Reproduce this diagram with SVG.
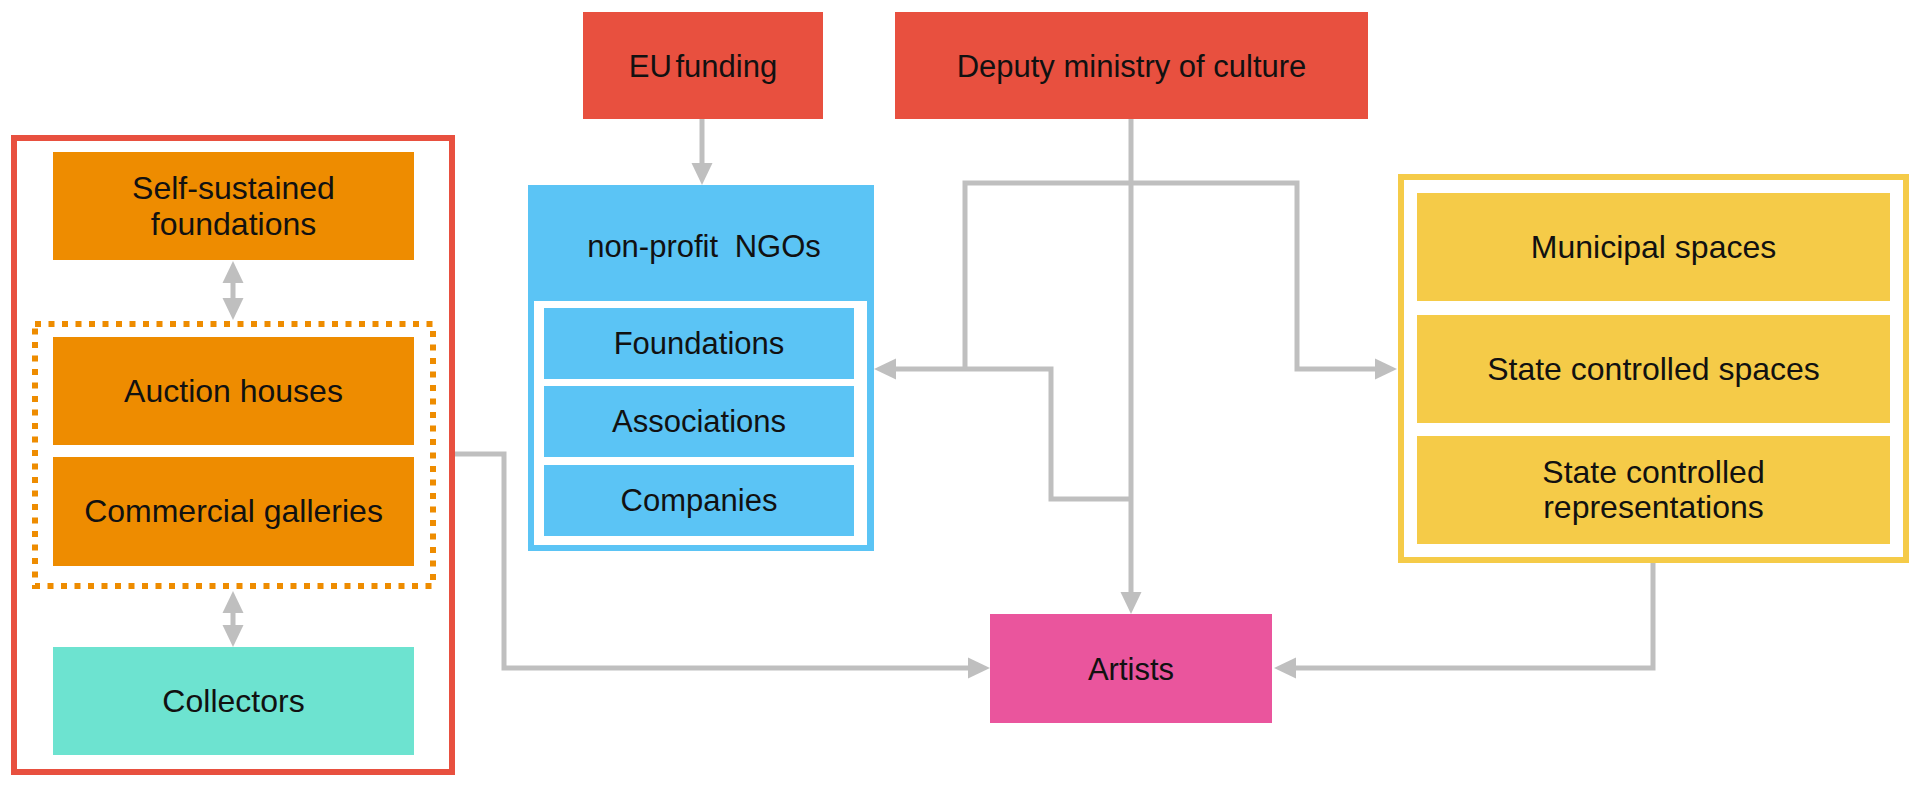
<svg xmlns="http://www.w3.org/2000/svg" width="1920" height="787" viewBox="0 0 1920 787">
<defs>
<style>
text{font-family:"Liberation Sans",Arial,Helvetica,sans-serif;font-size:31px;fill:#111;text-anchor:middle}
.big{font-size:32px}
.red{fill:#E8503F}
.org{fill:#EE8C00}
.teal{fill:#6DE3D0}
.blue{fill:#5BC4F5}
.yel{fill:#F5CB48}
.pink{fill:#EA559D}
.conn{fill:none;stroke:#BFBFBF;stroke-width:5}
</style>
<marker id="ah" markerUnits="userSpaceOnUse" markerWidth="22" markerHeight="22" viewBox="0 0 22 22" refX="12" refY="11" orient="auto-start-reverse">
<path d="M0,0.5 L22,11 L0,21.5 Z" fill="#BFBFBF"/>
</marker>
</defs>
<rect width="1920" height="787" fill="#fff"/>

<g id="market-group">
<rect x="14" y="138" width="438" height="634" fill="none" stroke="#E8503F" stroke-width="6"/>
<rect x="35" y="324" width="398" height="262" fill="none" stroke="#EE8C00" stroke-width="6" stroke-dasharray="6 7.5"/>
</g>
<g id="self-sustained">
<rect class="org" x="53" y="152" width="361" height="108"/>
<text class="big" x="233.5" y="199">Self-sustained</text>
<text class="big" x="233.5" y="235">foundations</text>
</g>
<g id="auction">
<rect class="org" x="53" y="337" width="361" height="108"/>
<text class="big" x="233.5" y="402">Auction houses</text>
</g>
<g id="galleries">
<rect class="org" x="53" y="457" width="361" height="109"/>
<text class="big" x="233.5" y="522">Commercial galleries</text>
</g>
<g id="collectors">
<rect class="teal" x="53" y="647" width="361" height="108"/>
<text class="big" x="233.5" y="712">Collectors</text>
</g>

<g id="eu">
<rect class="red" x="583" y="12" width="240" height="107"/>
<text x="703" y="77" word-spacing="-5">EU funding</text>
</g>
<g id="deputy">
<rect class="red" x="895" y="12" width="473" height="107"/>
<text x="1131.5" y="77">Deputy ministry of culture</text>
</g>

<g id="ngos">
<rect class="blue" x="528" y="185" width="346" height="366"/>
<text x="704" y="257" word-spacing="8">non-profit NGOs</text>
<rect x="534" y="301" width="333" height="244" fill="#fff"/>
<rect class="blue" x="544" y="308" width="310" height="71"/>
<text x="699" y="354">Foundations</text>
<rect class="blue" x="544" y="386" width="310" height="71"/>
<text x="699" y="432">Associations</text>
<rect class="blue" x="544" y="465" width="310" height="71"/>
<text x="699" y="511">Companies</text>
</g>

<g id="state">
<rect x="1401" y="177" width="505" height="383" fill="#fff" stroke="#F5CB48" stroke-width="6"/>
<rect class="yel" x="1417" y="193" width="473" height="108"/>
<text class="big" x="1653.5" y="258">Municipal spaces</text>
<rect class="yel" x="1417" y="315" width="473" height="108"/>
<text class="big" x="1653.5" y="380">State controlled spaces</text>
<rect class="yel" x="1417" y="436" width="473" height="108"/>
<text class="big" x="1653.5" y="483">State controlled</text>
<text class="big" x="1653.5" y="518">representations</text>
</g>

<g id="artists">
<rect class="pink" x="990" y="614" width="282" height="109"/>
<text x="1131" y="680">Artists</text>
</g>

<g id="connectors">
<path class="conn" d="M233,271 V310" marker-start="url(#ah)" marker-end="url(#ah)"/>
<path class="conn" d="M233,601 V637" marker-start="url(#ah)" marker-end="url(#ah)"/>
<path class="conn" d="M702,119 V175" marker-end="url(#ah)"/>
<path class="conn" d="M1131,119 V604" marker-end="url(#ah)"/>
<path class="conn" d="M965,369 V183 H1297 V369 H1387" marker-end="url(#ah)"/>
<path class="conn" d="M1131,499 H1051 V369 H884" marker-end="url(#ah)"/>
<path class="conn" d="M1653,563 V668 H1284" marker-end="url(#ah)"/>
<path class="conn" d="M455,454 H504 V668 H980" marker-end="url(#ah)"/>
</g>
</svg>
